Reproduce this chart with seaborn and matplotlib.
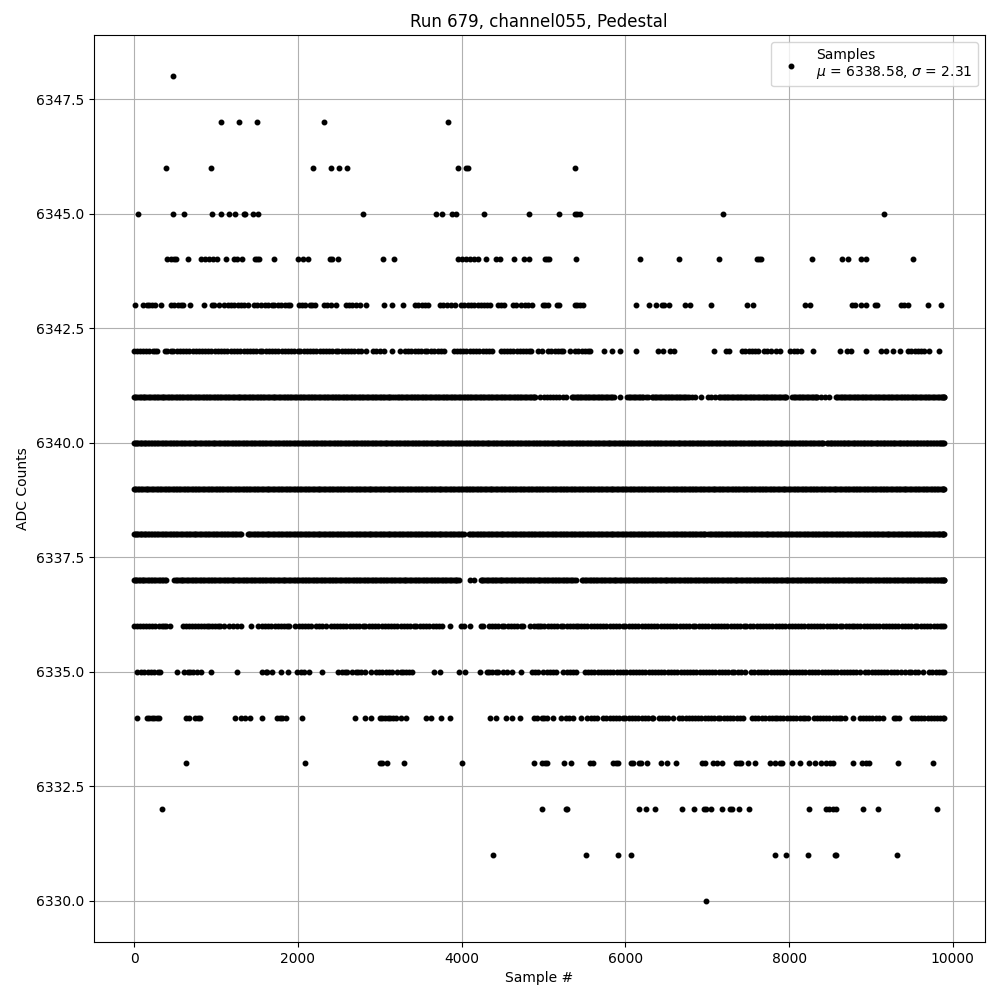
import matplotlib
matplotlib.use("Agg")
import matplotlib.pyplot as plt
import pandas as pd
import seaborn as sns

TITLE = "Run 679, channel055, Pedestal"
XLABEL = "Sample #"
YLABEL = "ADC Counts"
LEGEND = "Samples\n$\\mu$ = 6338.58, $\\sigma$ = 2.31"

s6348 = [472]
s6347 = [1057, 1276, 1496, 2325, 3837]
s6346 = [386, 935, 2191, 2411, 2508, 2606, 3959, 4057, 4082, 5390]
s6345 = [45, 472, 606, 947, 1057, 1154, 1228, 1345, 1360, 1447, 1520, 2801, 3691, 3764, 3886, 3935, 4276, 4825,
         5195, 5390, 5415, 5447, 7191, 9159]
s6344 = [398, 447, 484, 508, 654, 813, 862, 911, 959, 1008, 1118, 1215, 1252, 1313, 1480, 1508, 1528, 1715,
         2004, 2065, 2130, 2398, 2423, 2496, 3045, 3179, 3959, 4008, 4057, 4106, 4155, 4203, 4301, 4423, 4472,
         4642, 4764, 4825, 5016, 5041, 5065, 5402, 6183, 6659, 7146, 7610, 7634, 7659, 8280, 8646, 8719, 8878,
         8939, 9512]
s6343 = [8, 106, 154, 187, 220, 252, 325, 455, 492, 533, 573, 602, 679, 850, 947, 980, 1041, 1102, 1142, 1183,
         1224, 1264, 1305, 1345, 1390, 1467, 1508, 1549, 1602, 1642, 1683, 1707, 1760, 1801, 1842, 1882, 1911,
         2012, 2053, 2094, 2146, 2179, 2211, 2317, 2358, 2406, 2472, 2585, 2626, 2667, 2715, 2760, 2837, 3057,
         3155, 3289, 3431, 3472, 3512, 3553, 3594, 3732, 3772, 3825, 3866, 3919, 3992, 4033, 4073, 4114, 4155,
         4195, 4236, 4276, 4313, 4350, 4443, 4484, 4524, 4626, 4667, 4732, 4772, 4813, 4862, 4992, 5024, 5057,
         5171, 5195, 5390, 5415, 5447, 5480, 6134, 6293, 6378, 6451, 6476, 6537, 6732, 6793, 7049, 7488, 7561,
         8195, 8256, 8768, 8801, 8878, 8939, 9049, 9073, 9366, 9402, 9451, 9695, 9854]
s6342 = [0, 34, 71, 112, 148, 183, 226, 258, 285, 374, 405, 447, 481, 526, 559, 603, 640, 672, 718, 751, 795,
         832, 866, 909, 944, 990, 1023, 1068, 1104, 1139, 1183, 1216, 1262, 1296, 1338, 1374, 1411, 1452, 1487,
         1533, 1566, 1608, 1647, 1680, 1726, 1759, 1803, 1838, 1875, 1918, 1952, 1997, 2030, 2074, 2109, 2146,
         2188, 2222, 2268, 2303, 2345, 2382, 2416, 2461, 2495, 2541, 2574, 2618, 2653, 2690, 2733, 2768, 2829,
         2919, 2958, 3000, 3049, 3146, 3244, 3309, 3347, 3388, 3426, 3467, 3505, 3548, 3583, 3629, 3664, 3707,
         3746, 3785, 3902, 3943, 3978, 4021, 4057, 4098, 4136, 4179, 4214, 4259, 4293, 4331, 4366, 4476, 4517,
         4554, 4597, 4632, 4676, 4711, 4752, 4790, 4829, 4854, 4935, 4980, 5061, 5098, 5141, 5176, 5219, 5244,
         5325, 5386, 5424, 5467, 5502, 5543, 5569, 5744, 5841, 5939, 6134, 6402, 6463, 6545, 6593, 7085, 7228,
         7264, 7427, 7466, 7505, 7549, 7583, 7622, 7691, 7733, 7784, 7841, 7894, 8012, 8056, 8098, 8150, 8289,
         8622, 8707, 8756, 8935, 9126, 9179, 9264, 9350, 9451, 9489, 9533, 9570, 9612, 9651, 9715, 9833]
s6341 = [0, 29, 67, 108, 139, 182, 216, 259, 293, 338, 371, 413, 448, 489, 527, 566, 604, 641, 684, 719, 763,
         796, 840, 873, 917, 952, 993, 1031, 1068, 1109, 1147, 1186, 1222, 1265, 1300, 1344, 1377, 1421, 1456,
         1497, 1535, 1572, 1615, 1649, 1694, 1727, 1771, 1806, 1847, 1885, 1923, 1964, 2002, 2041, 2079, 2119,
         2158, 2196, 2237, 2273, 2316, 2351, 2394, 2430, 2472, 2508, 2549, 2587, 2626, 2667, 2702, 2746, 2781,
         2824, 2860, 2902, 2939, 2979, 3018, 3055, 3097, 3131, 3177, 3220, 3257, 3299, 3336, 3378, 3414, 3456,
         3493, 3534, 3571, 3613, 3650, 3692, 3727, 3770, 3806, 3848, 3885, 3926, 3964, 4005, 4043, 4083, 4121,
         4163, 4199, 4242, 4278, 4320, 4357, 4399, 4436, 4477, 4515, 4556, 4593, 4636, 4672, 4714, 4750, 4793,
         4830, 4871, 4900, 4960, 5001, 5038, 5079, 5118, 5157, 5196, 5235, 5276, 5346, 5384, 5426, 5463, 5505,
         5541, 5583, 5620, 5662, 5699, 5741, 5778, 5820, 5862, 5939, 6024, 6063, 6104, 6142, 6183, 6221, 6280,
         6321, 6360, 6399, 6438, 6479, 6516, 6558, 6595, 6637, 6674, 6716, 6753, 6809, 6850, 6919, 7004, 7047,
         7093, 7142, 7181, 7223, 7260, 7302, 7339, 7381, 7418, 7460, 7497, 7539, 7576, 7618, 7655, 7697, 7734,
         7776, 7813, 7855, 7892, 7934, 7967, 8037, 8076, 8118, 8155, 8197, 8234, 8276, 8313, 8341, 8394, 8439,
         8488, 8569, 8608, 8650, 8687, 8729, 8766, 8808, 8845, 8887, 8924, 8966, 9003, 9045, 9082, 9124, 9161,
         9203, 9240, 9282, 9319, 9361, 9398, 9440, 9477, 9519, 9556, 9598, 9635, 9677, 9714, 9756, 9793, 9835,
         9872, 9890, 9895]
s6341b = [14, 48, 88, 123, 160, 199, 238, 276, 315, 354, 392, 430, 468, 508, 546, 585, 622, 662, 701, 741, 779,
          818, 856, 895, 934, 972, 1012, 1049, 1088, 1128, 1166, 1204, 1243, 1282, 1322, 1360, 1399, 1438, 1476,
          1516, 1553, 1593, 1632, 1671, 1710, 1749, 1788, 1826, 1866, 1904, 1943, 1983, 2021, 2060, 2099, 2138,
          2177, 2216, 2255, 2294, 2333, 2372, 2412, 2451, 2490, 2528, 2568, 2606, 2646, 2684, 2724, 2763, 2802,
          2842, 2881, 2920, 2959, 2998, 3036, 3076, 3114, 3154, 3198, 3238, 3278, 3317, 3357, 3396, 3435, 3474,
          3513, 3552, 3592, 3631, 3671, 3709, 3748, 3788, 3827, 3866, 3905, 3945, 3984, 4024, 4063, 4102, 4142,
          4181, 4220, 4260, 4299, 4338, 4378, 4417, 4456, 4496, 4535, 4574, 4614, 4654, 4693, 4732, 4771, 4811,
          4850, 4885, 5365, 5405, 5444, 5484, 5523, 5562, 5601, 5641, 5680, 5720, 5759, 5799, 5841, 6043, 6083,
          6123, 6162, 6202, 6250, 6340, 6380, 6418, 6458, 6497, 6537, 6576, 6616, 6655, 6695, 6734, 6780, 7161,
          7202, 7241, 7281, 7320, 7360, 7399, 7439, 7478, 7518, 7557, 7597, 7636, 7676, 7715, 7755, 7794, 7834,
          7873, 7913, 7950, 8056, 8097, 8136, 8176, 8215, 8255, 8294, 8327, 8588, 8629, 8668, 8708, 8747, 8787,
          8826, 8866, 8905, 8945, 8984, 9024, 9063, 9103, 9142, 9182, 9221, 9261, 9300, 9340, 9379, 9419, 9458,
          9498, 9537, 9577, 9616, 9656, 9695, 9735, 9774, 9814, 9853, 9881]
s6340 = [0, 24, 53, 86, 118, 149, 187, 221, 262, 296, 338, 373, 417, 451, 494, 529, 571, 607, 648, 684, 727,
         762, 804, 839, 883, 917, 959, 995, 1037, 1073, 1114, 1150, 1193, 1228, 1271, 1306, 1348, 1384, 1426,
         1461, 1504, 1539, 1581, 1617, 1659, 1695, 1737, 1772, 1815, 1851, 1893, 1928, 1970, 2006, 2048, 2084,
         2126, 2161, 2204, 2239, 2282, 2317, 2360, 2395, 2437, 2473, 2515, 2551, 2593, 2628, 2671, 2706, 2749,
         2784, 2827, 2862, 2904, 2940, 2982, 3018, 3060, 3095, 3138, 3173, 3216, 3251, 3293, 3329, 3371, 3407,
         3449, 3484, 3527, 3562, 3605, 3640, 3682, 3718, 3760, 3796, 3838, 3873, 3916, 3951, 3994, 4029, 4071,
         4107, 4149, 4185, 4227, 4262, 4305, 4340, 4383, 4418, 4460, 4496, 4538, 4574, 4616, 4651, 4694, 4729,
         4772, 4807, 4849, 4885, 4927, 4963, 5005, 5040, 5083, 5118, 5161, 5196, 5238, 5274, 5316, 5352, 5394,
         5429, 5472, 5507, 5550, 5585, 5627, 5663, 5705, 5741, 5783, 5818, 5861, 5896, 5939, 5974, 6016, 6052,
         6094, 6130, 6172, 6207, 6250, 6285, 6328, 6363, 6405, 6441, 6483, 6519, 6561, 6596, 6639, 6674, 6717,
         6752, 6794, 6830, 6872, 6908, 6950, 6985, 7028, 7063, 7106, 7141, 7183, 7219, 7261, 7297, 7339, 7374,
         7417, 7452, 7495, 7530, 7572, 7608, 7650, 7686, 7728, 7763, 7806, 7841, 7884, 7919, 7961, 7997, 8039,
         8075, 8117, 8152, 8195, 8230, 8273, 8308, 8350, 8386, 8420, 8462, 8497, 8529, 8566, 8598, 8637, 8669,
         8706, 8738, 8777, 8809, 8846, 8878, 8917, 8949, 8986, 9018, 9057, 9089, 9126, 9158, 9197, 9229, 9266,
         9298, 9337, 9369, 9406, 9438, 9477, 9509, 9546, 9578, 9617, 9649, 9686, 9718, 9757, 9789, 9826, 9858,
         9881, 9893]
s6340b = [12, 39, 70, 102, 134, 168, 204, 242, 279, 317, 355, 395, 434, 472, 511, 550, 589, 627, 666, 705, 744,
          783, 821, 861, 900, 938, 977, 1016, 1055, 1094, 1132, 1171, 1210, 1249, 1288, 1327, 1366, 1405, 1443,
          1482, 1521, 1560, 1599, 1638, 1677, 1716, 1754, 1793, 1833, 1872, 1910, 1949, 1988, 2027, 2066, 2105,
          2143, 2182, 2221, 2260, 2299, 2338, 2377, 2416, 2455, 2494, 2533, 2572, 2610, 2649, 2688, 2727, 2766,
          2805, 2844, 2883, 2922, 2961, 3000, 3039, 3078, 3116, 3155, 3194, 3233, 3272, 3311, 3350, 3389, 3428,
          3466, 3505, 3544, 3583, 3622, 3661, 3700, 3739, 3778, 3817, 3855, 3894, 3933, 3972, 4011, 4050, 4089,
          4128, 4167, 4206, 4244, 4283, 4322, 4361, 4400, 4439, 4478, 4517, 4556, 4595, 4633, 4672, 4711, 4750,
          4789, 4828, 4867, 4906, 4945, 4984, 5022, 5061, 5100, 5139, 5178, 5217, 5256, 5295, 5334, 5373, 5411,
          5450, 5489, 5528, 5567, 5606, 5645, 5684, 5723, 5762, 5800, 5839, 5878, 5917, 5956, 5995, 6034, 6073,
          6112, 6151, 6189, 6228, 6267, 6306, 6345, 6384, 6423, 6462, 6501, 6540, 6578, 6617, 6656, 6695, 6734,
          6773, 6812, 6851, 6890, 6929, 6967, 7006, 7045, 7084, 7123, 7162, 7201, 7240, 7279, 7318, 7356, 7395,
          7434, 7473, 7512, 7551, 7590, 7629, 7668, 7707, 7745, 7784, 7823, 7862, 7901, 7940, 7979, 8018, 8057,
          8096, 8134, 8173, 8212, 8251, 8290, 8329, 8368, 8405, 8480, 8513, 8547, 8582, 8617, 8653, 8687, 8722,
          8757, 8793, 8827, 8862, 8897, 8933, 8967, 9002, 9037, 9073, 9107, 9142, 9177, 9213, 9247, 9282, 9317,
          9353, 9387, 9422, 9457, 9493, 9527, 9562, 9597, 9633, 9667, 9702, 9737, 9773, 9807, 9842, 9870]
s6339 = [0, 27, 64, 98, 141, 176, 219, 254, 296, 332, 374, 409, 452, 487, 530, 565, 607, 643, 685, 721, 763,
         798, 841, 876, 919, 954, 996, 1032, 1074, 1110, 1152, 1187, 1230, 1265, 1308, 1343, 1385, 1421, 1463,
         1499, 1541, 1576, 1619, 1654, 1697, 1732, 1774, 1810, 1852, 1888, 1930, 1965, 2008, 2043, 2086, 2121,
         2163, 2199, 2241, 2277, 2319, 2354, 2397, 2432, 2475, 2510, 2552, 2588, 2630, 2666, 2708, 2743, 2786,
         2821, 2864, 2899, 2941, 2977, 3019, 3055, 3097, 3132, 3175, 3210, 3253, 3288, 3330, 3366, 3408, 3444,
         3486, 3521, 3564, 3599, 3642, 3677, 3719, 3755, 3797, 3833, 3875, 3910, 3953, 3988, 4031, 4066, 4108,
         4144, 4186, 4222, 4264, 4299, 4342, 4377, 4420, 4455, 4497, 4533, 4575, 4611, 4653, 4688, 4731, 4766,
         4809, 4844, 4886, 4922, 4964, 5000, 5042, 5077, 5120, 5155, 5198, 5233, 5275, 5311, 5353, 5389, 5431,
         5466, 5509, 5544, 5587, 5622, 5664, 5700, 5742, 5778, 5820, 5855, 5898, 5933, 5976, 6011, 6053, 6089,
         6131, 6167, 6209, 6244, 6287, 6322, 6365, 6400, 6442, 6478, 6520, 6556, 6598, 6633, 6676, 6711, 6754,
         6789, 6831, 6867, 6909, 6945, 6987, 7022, 7065, 7100, 7143, 7178, 7220, 7256, 7298, 7334, 7376, 7411,
         7454, 7489, 7532, 7567, 7609, 7645, 7687, 7723, 7765, 7800, 7843, 7878, 7921, 7956, 7998, 8034, 8076,
         8112, 8154, 8189, 8232, 8267, 8310, 8345, 8387, 8423, 8465, 8501, 8543, 8578, 8621, 8656, 8699, 8734,
         8776, 8812, 8854, 8890, 8932, 8967, 9010, 9045, 9088, 9123, 9165, 9201, 9243, 9279, 9321, 9356, 9399,
         9434, 9477, 9512, 9554, 9590, 9632, 9668, 9710, 9745, 9788, 9823, 9866, 9883, 9897]
s6339b = [13, 46, 81, 120, 158, 198, 237, 275, 314, 353, 392, 431, 470, 509, 548, 586, 625, 664, 703, 742, 781,
          820, 859, 898, 937, 975, 1014, 1053, 1092, 1131, 1170, 1209, 1248, 1287, 1326, 1364, 1403, 1442, 1481,
          1520, 1559, 1598, 1637, 1676, 1715, 1753, 1792, 1831, 1870, 1909, 1948, 1987, 2026, 2065, 2104, 2142,
          2181, 2220, 2259, 2298, 2337, 2376, 2415, 2454, 2493, 2531, 2570, 2609, 2648, 2687, 2726, 2765, 2804,
          2843, 2882, 2920, 2959, 2998, 3037, 3076, 3115, 3154, 3193, 3232, 3271, 3309, 3348, 3387, 3426, 3465,
          3504, 3543, 3582, 3621, 3660, 3698, 3737, 3776, 3815, 3854, 3893, 3932, 3971, 4010, 4049, 4087, 4126,
          4165, 4204, 4243, 4282, 4321, 4360, 4399, 4438, 4476, 4515, 4554, 4593, 4632, 4671, 4710, 4749, 4788,
          4827, 4865, 4904, 4943, 4982, 5021, 5060, 5099, 5138, 5177, 5216, 5254, 5293, 5332, 5371, 5410, 5449,
          5488, 5527, 5566, 5605, 5643, 5682, 5721, 5760, 5799, 5838, 5877, 5916, 5955, 5994, 6032, 6071, 6110,
          6149, 6188, 6227, 6266, 6305, 6344, 6383, 6421, 6460, 6499, 6538, 6577, 6616, 6655, 6694, 6733, 6772,
          6810, 6849, 6888, 6927, 6966, 7005, 7044, 7083, 7122, 7161, 7199, 7238, 7277, 7316, 7355, 7394, 7433,
          7472, 7511, 7550, 7588, 7627, 7666, 7705, 7744, 7783, 7822, 7861, 7900, 7939, 7977, 8016, 8055, 8094,
          8133, 8172, 8211, 8250, 8289, 8328, 8366, 8405, 8444, 8483, 8522, 8561, 8600, 8639, 8678, 8717, 8755,
          8794, 8833, 8872, 8911, 8950, 8989, 9028, 9067, 9106, 9144, 9183, 9222, 9261, 9300, 9339, 9378, 9417,
          9456, 9495, 9533, 9572, 9611, 9650, 9689, 9728, 9767, 9806, 9845, 9875]
s6338 = [0, 21, 52, 83, 117, 146, 184, 219, 261, 296, 339, 374, 416, 452, 494, 530, 572, 607, 650, 685, 728,
         763, 805, 841, 883, 919, 961, 996, 1039, 1074, 1117, 1152, 1194, 1230, 1272, 1305, 1386, 1421, 1463,
         1499, 1541, 1576, 1619, 1654, 1697, 1732, 1774, 1810, 1852, 1888, 1930, 1965, 2008, 2043, 2086, 2121,
         2163, 2199, 2241, 2277, 2319, 2354, 2397, 2432, 2475, 2510, 2552, 2588, 2630, 2666, 2708, 2743, 2786,
         2821, 2864, 2899, 2941, 2977, 3019, 3055, 3097, 3132, 3175, 3210, 3253, 3288, 3330, 3366, 3408, 3444,
         3486, 3521, 3564, 3599, 3642, 3677, 3719, 3755, 3797, 3833, 3875, 3910, 3953, 3988, 4029, 4090, 4123,
         4166, 4201, 4243, 4279, 4321, 4357, 4399, 4434, 4477, 4512, 4555, 4590, 4632, 4668, 4710, 4746, 4788,
         4823, 4866, 4901, 4943, 4964, 5000, 5042, 5077, 5120, 5155, 5198, 5233, 5275, 5311, 5353, 5389, 5431,
         5466, 5509, 5544, 5587, 5622, 5664, 5700, 5742, 5778, 5820, 5855, 5898, 5933, 5976, 6011, 6053, 6089,
         6131, 6167, 6209, 6244, 6287, 6322, 6365, 6400, 6442, 6478, 6520, 6556, 6598, 6633, 6676, 6711, 6754,
         6789, 6831, 6867, 6909, 6950, 6972, 7012, 7048, 7090, 7126, 7168, 7203, 7246, 7281, 7324, 7359, 7401,
         7437, 7479, 7515, 7557, 7592, 7635, 7670, 7713, 7748, 7790, 7826, 7868, 7904, 7946, 7981, 8024, 8059,
         8102, 8137, 8179, 8215, 8257, 8293, 8335, 8370, 8413, 8448, 8491, 8526, 8568, 8604, 8646, 8682, 8724,
         8759, 8802, 8837, 8880, 8915, 8957, 8993, 9035, 9071, 9113, 9148, 9191, 9226, 9269, 9304, 9346, 9382,
         9424, 9460, 9502, 9537, 9580, 9615, 9658, 9693, 9735, 9771, 9813, 9849, 9875, 9897]
s6338b = [11, 37, 68, 100, 132, 165, 202, 240, 279, 318, 357, 395, 434, 473, 512, 551, 590, 629, 668, 707, 746,
          785, 823, 862, 901, 940, 979, 1018, 1057, 1096, 1135, 1173, 1212, 1251, 1289, 1403, 1442, 1481, 1520,
          1559, 1598, 1637, 1676, 1715, 1754, 1792, 1831, 1870, 1909, 1948, 1987, 2026, 2065, 2104, 2143, 2181,
          2220, 2259, 2298, 2337, 2376, 2415, 2454, 2493, 2531, 2570, 2609, 2648, 2687, 2726, 2765, 2804, 2843,
          2882, 2920, 2959, 2998, 3037, 3076, 3115, 3154, 3193, 3232, 3271, 3309, 3348, 3387, 3426, 3465, 3504,
          3543, 3582, 3621, 3660, 3698, 3737, 3776, 3815, 3854, 3893, 3932, 3971, 4010, 4105, 4145, 4184, 4222,
          4261, 4300, 4339, 4378, 4417, 4456, 4495, 4534, 4573, 4611, 4650, 4689, 4728, 4767, 4806, 4845, 4884,
          4923, 4982, 5021, 5060, 5099, 5138, 5177, 5216, 5254, 5293, 5332, 5371, 5410, 5449, 5488, 5527, 5566,
          5605, 5643, 5682, 5721, 5760, 5799, 5838, 5877, 5916, 5955, 5994, 6032, 6071, 6110, 6149, 6188, 6227,
          6266, 6305, 6344, 6383, 6421, 6460, 6499, 6538, 6577, 6616, 6655, 6694, 6733, 6772, 6810, 6849, 6888,
          6929, 6961, 7030, 7069, 7108, 7147, 7186, 7224, 7263, 7302, 7341, 7380, 7419, 7458, 7497, 7536, 7575,
          7614, 7652, 7691, 7730, 7769, 7808, 7847, 7886, 7925, 7964, 8003, 8041, 8080, 8119, 8158, 8197, 8236,
          8275, 8314, 8353, 8392, 8430, 8469, 8508, 8547, 8586, 8625, 8664, 8703, 8742, 8781, 8819, 8858, 8897,
          8936, 8975, 9014, 9053, 9092, 9131, 9170, 9208, 9247, 9286, 9325, 9364, 9403, 9442, 9481, 9520, 9559,
          9597, 9636, 9675, 9714, 9753, 9792, 9831, 9862, 9886]
s6337 = [0, 24, 58, 93, 127, 168, 205, 243, 281, 318, 356, 390, 492, 528, 569, 604, 647, 682, 725, 760, 802,
         838, 880, 916, 958, 993, 1036, 1071, 1114, 1149, 1191, 1227, 1269, 1305, 1347, 1382, 1425, 1460, 1503,
         1538, 1580, 1616, 1658, 1694, 1736, 1771, 1814, 1849, 1892, 1927, 1969, 2005, 2047, 2083, 2125, 2160,
         2203, 2238, 2281, 2316, 2358, 2394, 2436, 2472, 2514, 2549, 2592, 2627, 2670, 2705, 2747, 2783, 2825,
         2861, 2903, 2938, 2981, 3016, 3059, 3094, 3136, 3172, 3214, 3250, 3292, 3327, 3370, 3405, 3448, 3483,
         3525, 3561, 3603, 3639, 3681, 3716, 3759, 3794, 3837, 3872, 3914, 3950, 3967, 4098, 4151, 4232, 4268,
         4309, 4345, 4387, 4423, 4465, 4500, 4543, 4578, 4621, 4656, 4698, 4734, 4776, 4812, 4854, 4889, 4932,
         4962, 5003, 5038, 5081, 5116, 5159, 5194, 5236, 5272, 5314, 5350, 5398, 5467, 5503, 5545, 5581, 5623,
         5658, 5701, 5736, 5779, 5814, 5856, 5892, 5934, 5970, 6012, 6047, 6090, 6125, 6168, 6203, 6245, 6281,
         6323, 6359, 6401, 6436, 6479, 6514, 6557, 6592, 6634, 6670, 6712, 6748, 6790, 6825, 6868, 6903, 6946,
         6981, 7023, 7059, 7101, 7137, 7179, 7214, 7257, 7292, 7335, 7370, 7412, 7448, 7490, 7526, 7568, 7603,
         7646, 7681, 7724, 7759, 7801, 7837, 7879, 7915, 7957, 7992, 8035, 8070, 8113, 8148, 8190, 8226, 8268,
         8304, 8346, 8381, 8424, 8459, 8502, 8537, 8579, 8615, 8657, 8693, 8735, 8770, 8813, 8848, 8891, 8926,
         8968, 9004, 9046, 9082, 9124, 9159, 9202, 9237, 9280, 9315, 9357, 9393, 9435, 9471, 9513, 9548, 9591,
         9626, 9669, 9704, 9746, 9782, 9824, 9860, 9881, 9897]
s6337b = [12, 41, 76, 110, 148, 187, 224, 262, 300, 338, 375, 510, 549, 587, 626, 665, 704, 743, 781, 820, 859,
          898, 937, 976, 1015, 1054, 1093, 1132, 1170, 1209, 1248, 1287, 1326, 1365, 1404, 1443, 1482, 1521,
          1559, 1598, 1637, 1676, 1715, 1754, 1793, 1832, 1871, 1910, 1948, 1987, 2026, 2065, 2104, 2143, 2182,
          2221, 2260, 2299, 2337, 2376, 2415, 2454, 2493, 2532, 2571, 2610, 2649, 2688, 2726, 2765, 2804, 2843,
          2882, 2921, 2960, 2999, 3038, 3077, 3115, 3154, 3193, 3232, 3271, 3310, 3349, 3388, 3427, 3466, 3504,
          3543, 3582, 3621, 3660, 3699, 3738, 3777, 3816, 3855, 3893, 3932, 4250, 4290, 4328, 4366, 4405, 4444,
          4483, 4522, 4561, 4600, 4639, 4678, 4717, 4756, 4795, 4833, 4872, 4911, 4948, 4982, 5021, 5060, 5099,
          5138, 5177, 5216, 5254, 5293, 5332, 5372, 5485, 5524, 5563, 5602, 5641, 5680, 5719, 5758, 5797, 5835,
          5874, 5913, 5952, 5991, 6030, 6069, 6108, 6147, 6186, 6224, 6263, 6302, 6341, 6380, 6419, 6458, 6497,
          6536, 6575, 6613, 6652, 6691, 6730, 6769, 6808, 6847, 6886, 6925, 6964, 7002, 7041, 7080, 7119, 7158,
          7197, 7236, 7275, 7314, 7353, 7391, 7430, 7469, 7508, 7547, 7586, 7625, 7664, 7703, 7742, 7780, 7819,
          7858, 7897, 7936, 7975, 8014, 8053, 8092, 8131, 8169, 8208, 8247, 8286, 8325, 8364, 8403, 8442, 8481,
          8520, 8558, 8597, 8636, 8675, 8714, 8753, 8792, 8831, 8870, 8909, 8947, 8986, 9025, 9064, 9103, 9142,
          9181, 9220, 9259, 9298, 9336, 9375, 9414, 9453, 9492, 9531, 9570, 9609, 9648, 9687, 9725, 9764, 9803,
          9842, 9871, 9889]
s6336 = [0, 31, 68, 104, 146, 181, 224, 259, 302, 337, 367, 390, 439, 593, 631, 669, 704, 747, 782, 824, 860,
         886, 911, 951, 987, 1021, 1049, 1098, 1163, 1205, 1252, 1301, 1423, 1520, 1562, 1597, 1640, 1675, 1717,
         1753, 1795, 1831, 1873, 1894, 1967, 2009, 2047, 2089, 2125, 2159, 2220, 2261, 2298, 2341, 2402, 2438,
         2480, 2516, 2558, 2593, 2636, 2671, 2714, 2749, 2791, 2827, 2869, 2905, 2947, 2982, 3025, 3060, 3103,
         3138, 3180, 3216, 3258, 3294, 3336, 3371, 3414, 3449, 3492, 3527, 3569, 3605, 3647, 3683, 3725, 3764,
         3854, 3988, 4029, 4098, 4232, 4260, 4333, 4368, 4411, 4446, 4489, 4524, 4566, 4602, 4644, 4680, 4722,
         4748, 4841, 4882, 4917, 4943, 4975, 5012, 5054, 5089, 5132, 5167, 5210, 5245, 5287, 5323, 5365, 5400,
         5417, 5457, 5499, 5534, 5577, 5612, 5655, 5690, 5732, 5768, 5810, 5846, 5888, 5923, 5966, 6001, 6044,
         6079, 6121, 6157, 6199, 6235, 6277, 6312, 6355, 6390, 6433, 6468, 6510, 6546, 6588, 6624, 6666, 6701,
         6744, 6779, 6822, 6857, 6899, 6935, 6977, 7013, 7055, 7090, 7133, 7168, 7211, 7246, 7288, 7324, 7366,
         7402, 7444, 7479, 7528, 7563, 7605, 7641, 7683, 7719, 7761, 7796, 7839, 7874, 7917, 7952, 7994, 8030,
         8072, 8108, 8150, 8185, 8228, 8263, 8306, 8341, 8383, 8419, 8461, 8497, 8539, 8574, 8617, 8652, 8695,
         8730, 8772, 8796, 8830, 8868, 8910, 8946, 8988, 9023, 9066, 9101, 9144, 9179, 9221, 9257, 9299, 9335,
         9377, 9412, 9455, 9490, 9533, 9568, 9610, 9646, 9688, 9724, 9766, 9801, 9844, 9870, 9897]
s6335 = [33, 85, 126, 167, 207, 248, 289, 317, 520, 606, 654, 687, 724, 768, 817, 939, 1252, 1569, 1610, 1630,
         1679, 1801, 1886, 1996, 2037, 2077, 2142, 2301, 2496, 2545, 2577, 2606, 2667, 2707, 2740, 2768, 2825,
         2890, 2951, 2992, 3033, 3073, 3114, 3155, 3215, 3256, 3285, 3317, 3358, 3398, 3667, 3740, 3971, 4045,
         4228, 4305, 4341, 4374, 4415, 4443, 4508, 4557, 4618, 4728, 4862, 4902, 4935, 5000, 5041, 5082, 5120,
         5158, 5244, 5282, 5321, 5360, 5398, 5508, 5544, 5586, 5621, 5664, 5699, 5742, 5777, 5819, 5855, 5897,
         5933, 5975, 6010, 6053, 6088, 6131, 6166, 6208, 6244, 6286, 6322, 6364, 6399, 6442, 6477, 6520, 6555,
         6597, 6633, 6675, 6711, 6753, 6788, 6831, 6866, 6909, 6944, 6986, 7022, 7064, 7100, 7142, 7177, 7220,
         7255, 7298, 7333, 7375, 7419, 7463, 7541, 7577, 7619, 7655, 7697, 7732, 7775, 7810, 7853, 7888, 7930,
         7966, 8008, 8044, 8086, 8121, 8164, 8199, 8242, 8277, 8319, 8355, 8397, 8433, 8475, 8510, 8553, 8588,
         8631, 8666, 8708, 8744, 8786, 8822, 8862, 8931, 8967, 9009, 9045, 9087, 9122, 9165, 9200, 9243, 9278,
         9320, 9370, 9418, 9460, 9495, 9538, 9573, 9634, 9715, 9751, 9793, 9829, 9871, 9898]
s6334 = [33, 154, 187, 220, 248, 276, 301, 634, 667, 740, 776, 809, 1228, 1301, 1358, 1415, 1569, 1752, 1785,
         1813, 1854, 2057, 2703, 2825, 2898, 3000, 3033, 3065, 3098, 3130, 3163, 3195, 3256, 3317, 3561, 3626,
         3752, 3862, 4350, 4415, 4545, 4618, 4715, 4882, 4923, 4980, 5008, 5041, 5122, 5220, 5276, 5317, 5358,
         5463, 5537, 5577, 5618, 5659, 5732, 5769, 5811, 5846, 5889, 5924, 5967, 6002, 6044, 6080, 6122, 6158,
         6200, 6235, 6278, 6321, 6341, 6411, 6454, 6489, 6524, 6585, 6659, 6695, 6737, 6773, 6815, 6850, 6893,
         6928, 6971, 7006, 7048, 7084, 7126, 7162, 7204, 7239, 7282, 7317, 7360, 7395, 7439, 7549, 7590, 7626,
         7668, 7703, 7752, 7789, 7831, 7854, 7894, 7932, 7975, 8010, 8053, 8088, 8130, 8166, 8191, 8232, 8301,
         8337, 8379, 8415, 8457, 8492, 8535, 8570, 8612, 8638, 8687, 8785, 8862, 8904, 8939, 8982, 9017, 9060,
         9095, 9146, 9276, 9311, 9341, 9496, 9538, 9573, 9616, 9651, 9694, 9729, 9771, 9807, 9849, 9878, 9898]
s6333 = [630, 2094, 3000, 3033, 3094, 3301, 4008, 4886, 4980, 5020, 5041, 5256, 5341, 5569, 5610, 5846, 5886,
         5915, 6065, 6098, 6163, 6195, 6268, 6439, 6504, 6622, 6939, 6972, 7073, 7114, 7187, 7346, 7386, 7411,
         7500, 7585, 7764, 7825, 7886, 7919, 8033, 8130, 8244, 8317, 8390, 8455, 8496, 8537, 8780, 8894, 8935,
         8972, 9329, 9756]
s6332 = [337, 4980, 5275, 5285, 6171, 6256, 6366, 6695, 6841, 6955, 6988, 7049, 7183, 7276, 7309, 7390,
         7512, 8244, 8455, 8488, 8537, 8569, 8902, 9085, 9805]
s6331 = [4385, 5524, 5915, 6073, 7829, 7963, 8232, 8557, 8577, 9313]
s6330 = [6988]

levels = {6348: s6348, 6347: s6347, 6346: s6346, 6345: s6345, 6344: s6344, 6343: s6343, 6342: s6342,
          6341: s6341 + s6341b, 6340: s6340 + s6340b, 6339: s6339 + s6339b, 6338: s6338 + s6338b,
          6337: s6337 + s6337b, 6336: s6336, 6335: s6335, 6334: s6334, 6333: s6333, 6332: s6332,
          6331: s6331, 6330: s6330}

df = pd.DataFrame(
    [(x, adc) for adc, xs in levels.items() for x in xs],
    columns=["sample", "adc"],
)

fig, ax = plt.subplots(figsize=(10, 10), dpi=100)
sns.scatterplot(data=df, x="sample", y="adc", color="black", marker=".", s=42,
                edgecolor="black", linewidth=1.0, zorder=2, label=LEGEND, ax=ax)
ax.set_title(TITLE)
ax.set_xlabel(XLABEL)
ax.set_ylabel(YLABEL)
ax.grid(True)
ax.legend(loc="upper right")
fig.subplots_adjust(left=0.0935, right=0.985, top=0.965, bottom=0.058)
fig.savefig("out.png", dpi=100)
